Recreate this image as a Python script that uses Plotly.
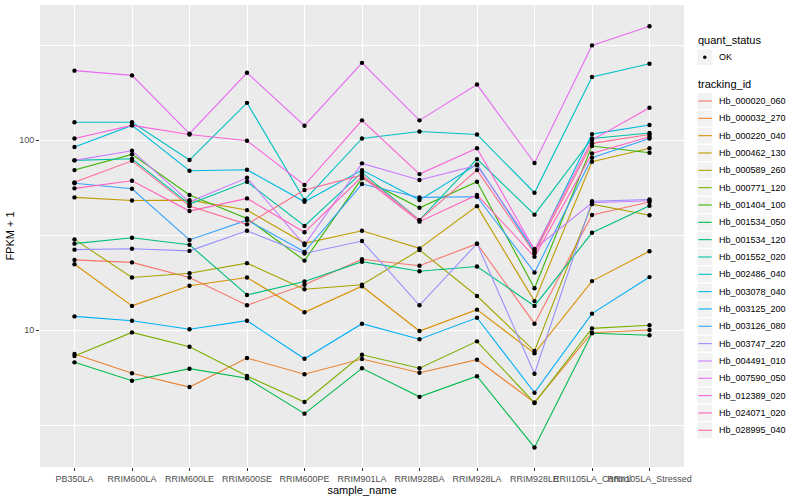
import plotly.graph_objects as go

samples = ["PB350LA", "RRIM600LA", "RRIM600LE", "RRIM600SE", "RRIM600PE",
           "RRIM901LA", "RRIM928BA", "RRIM928LA", "RRIM928LE",
           "RRII105LA_Control", "RRII105LA_Stressed"]

tracking_ids = ["Hb_000020_060", "Hb_000032_270", "Hb_000220_040", "Hb_000462_130",
                "Hb_000589_260", "Hb_000771_120", "Hb_001404_100", "Hb_001534_050",
                "Hb_001534_120", "Hb_001552_020", "Hb_002486_040", "Hb_003078_040",
                "Hb_003125_200", "Hb_003126_080", "Hb_003747_220", "Hb_004491_010",
                "Hb_007590_050", "Hb_012389_020", "Hb_024071_020", "Hb_028995_040"]

colors = ["#F8766D", "#EA8331", "#D89000", "#C09B00", "#A3A500", "#7CAE00", "#39B600",
          "#00BB4E", "#00BF7D", "#00C1A3", "#00BFC4", "#00BAE0", "#00B0F6", "#35A2FF",
          "#9590FF", "#C77CFF", "#E76BF3", "#FA62DB", "#FF62BC", "#FF6C91"]

# FPKM + 1 per gene, in the order of `samples`
Hb_000020_060 = [23.4, 22.7, 18.9, 13.5, 17.3, 23.6, 21.8, 28.5, 10.8, 40.3, 47.2]
Hb_000032_270 = [7.48, 5.92, 5.01, 7.12, 5.85, 7.04, 5.96, 6.98, 4.16, 9.68, 10.0]
Hb_000220_040 = [22.2, 13.4, 17.1, 18.9, 12.4, 17.0, 9.88, 12.8, 7.54, 18.1, 26.0]
Hb_000462_130 = [49.9, 48.1, 48.3, 42.8, 28.6, 33.3, 26.9, 44.9, 14.2, 76.9, 90.5]
Hb_000589_260 = [30.0, 18.9, 19.9, 22.5, 16.4, 17.3, 26.4, 15.1, 7.75, 46.0, 40.2]
Hb_000771_120 = [7.30, 9.72, 8.17, 5.73, 4.18, 7.41, 6.29, 8.72, 4.13, 10.2, 10.6]
Hb_001404_100 = [69.5, 84.1, 51.4, 38.7, 23.2, 62.9, 44.0, 60.3, 16.6, 93.0, 85.8]
Hb_001534_050 = [6.76, 5.41, 6.26, 5.57, 3.63, 6.29, 4.45, 5.71, 2.41, 9.61, 9.38]
Hb_001534_120 = [28.5, 30.6, 28.1, 15.3, 18.0, 22.9, 20.4, 21.6, 13.4, 32.5, 45.1]
Hb_001552_020 = [78.2, 79.7, 46.0, 60.3, 35.3, 67.6, 37.9, 79.4, 40.5, 102, 109]
Hb_002486_040 = [124, 124, 78.5, 157, 48.3, 102, 111, 107, 52.8, 215, 252]
Hb_003078_040 = [91.9, 119.5, 68.9, 69.8, 47.3, 69.5, 48.3, 74.5, 25.8, 107.5, 120]
Hb_003125_200 = [11.8, 11.2, 10.1, 11.2, 7.06, 10.8, 8.94, 11.6, 4.68, 12.2, 19.0]
Hb_003126_080 = [59.2, 55.4, 29.8, 37.9, 25.8, 58.7, 49.9, 50.3, 20.1, 80.7, 102]
Hb_003747_220 = [26.5, 26.8, 26.1, 33.3, 25.3, 29.4, 13.5, 28.5, 5.89, 47.6, 48.7]
Hb_004491_010 = [78.2, 87.8, 47.3, 63.3, 28.0, 75.4, 61.6, 73.6, 26.7, 46.8, 47.9]
Hb_007590_050 = [232, 219, 108, 226, 119, 255, 127, 196, 75.7, 315, 397]
Hb_012389_020 = [102, 119.5, 107, 99.2, 58.0, 127, 66.2, 90.5, 26.4, 100, 148]
Hb_024071_020 = [55.7, 61.1, 42.3, 49.3, 32.7, 64.1, 37.2, 51.4, 24.3, 85.1, 104]
Hb_028995_040 = [59.9, 77.8, 44.9, 36.0, 54.6, 65.4, 37.9, 69.5, 25.4, 96.1, 107]

series = [Hb_000020_060, Hb_000032_270, Hb_000220_040, Hb_000462_130, Hb_000589_260,
          Hb_000771_120, Hb_001404_100, Hb_001534_050, Hb_001534_120, Hb_001552_020,
          Hb_002486_040, Hb_003078_040, Hb_003125_200, Hb_003126_080, Hb_003747_220,
          Hb_004491_010, Hb_007590_050, Hb_012389_020, Hb_024071_020, Hb_028995_040]

quant_status = "OK"
y_ticks = [10, 100]
y_minor = [10 ** 0.5, 10 ** 1.5, 10 ** 2.5]

FONT = "Liberation Sans"
W, H = 800, 500
ML, MR, MT, MB = 40, 116, 5, 33
PW, PH = W - ML - MR, H - MT - MB


def px_x(px):
    return (px - ML) / PW


def px_y(py):
    return 1 - (py - MT) / PH


fig = go.Figure()

for name, col, vals in zip(tracking_ids, colors, series):
    fig.add_trace(go.Scatter(
        x=samples, y=vals, mode="lines", name=name,
        line=dict(color=col, width=1.1), showlegend=False))

all_x, all_y = [], []
for vals in series:
    all_x += samples
    all_y += vals
fig.add_trace(go.Scatter(
    x=all_x, y=all_y, mode="markers", name=quant_status,
    marker=dict(color="black", size=4.4), showlegend=False))

# ---- ggplot-style legend (keys with grey boxes) ----
shapes, annos = [], []
KEY_X0, KEY_X1, TXT_X, TITLE_X = 697.3, 712.3, 716.5, 696


def key_box(cy):
    shapes.append(dict(type="rect", xref="paper", yref="paper",
                       x0=px_x(KEY_X0), x1=px_x(KEY_X1),
                       y0=px_y(cy + 7.9), y1=px_y(cy - 7.9),
                       fillcolor="#F2F2F2", line=dict(width=0), layer="below"))


def label(text, cx, cy, size, color="black"):
    annos.append(dict(text=text, xref="paper", yref="paper", x=px_x(cx), y=px_y(cy),
                      xanchor="left", yanchor="middle", showarrow=False,
                      font=dict(family=FONT, size=size, color=color)))


label("quant_status", TITLE_X, 40.5, 11)
key_box(57.3)
shapes.append(dict(type="circle", xref="paper", yref="paper",
                   x0=px_x(703.0), x1=px_x(706.6), y0=px_y(59.1), y1=px_y(55.5),
                   fillcolor="black", line=dict(width=0)))
label(quant_status, TXT_X, 57.3, 9)

label("tracking_id", TITLE_X, 84.5, 11)
for i, (name, col) in enumerate(zip(tracking_ids, colors)):
    cy = 101 + i * 17.33
    key_box(cy)
    shapes.append(dict(type="line", xref="paper", yref="paper",
                       x0=px_x(698.3), x1=px_x(711.7), y0=px_y(cy), y1=px_y(cy),
                       line=dict(color=col, width=1.1)))
    label(name, TXT_X, cy, 9)

fig.update_layout(
    template="none",
    width=W, height=H,
    margin=dict(l=ML, r=MR, t=MT, b=MB, autoexpand=False),
    paper_bgcolor="white", plot_bgcolor="#EBEBEB",
    font=dict(family=FONT, size=9, color="#4D4D4D"),
    showlegend=False,
    shapes=shapes, annotations=annos,
)

fig.update_xaxes(
    type="category", range=[-0.6, len(samples) - 0.4], automargin=False,
    showgrid=True, gridcolor="white", gridwidth=1.1,
    ticks="outside", ticklen=3, tickcolor="#333333", tickwidth=1,
    tickfont=dict(family=FONT, size=9, color="#4D4D4D"), tickangle=0,
    showline=False, zeroline=False,
    title=dict(text="sample_name", font=dict(family=FONT, size=11, color="black"), standoff=0),
)
fig.update_yaxes(
    type="log", range=[0.279, 2.711], automargin=False,
    tickvals=y_ticks, ticktext=[str(v) for v in y_ticks],
    showgrid=True, gridcolor="white", gridwidth=1.1,
    minor=dict(tickvals=y_minor, showgrid=True, gridcolor="white", gridwidth=0.55, ticks=""),
    ticks="outside", ticklen=3, tickcolor="#333333", tickwidth=1,
    tickfont=dict(family=FONT, size=9, color="#4D4D4D"),
    showline=False, zeroline=False,
    title=dict(text="FPKM + 1", font=dict(family=FONT, size=11, color="black"), standoff=2),
)

fig.write_html("out.html",
               config={"displayModeBar": False},
               post_script="document.body.style.margin='0px';document.body.style.padding='0px';")
